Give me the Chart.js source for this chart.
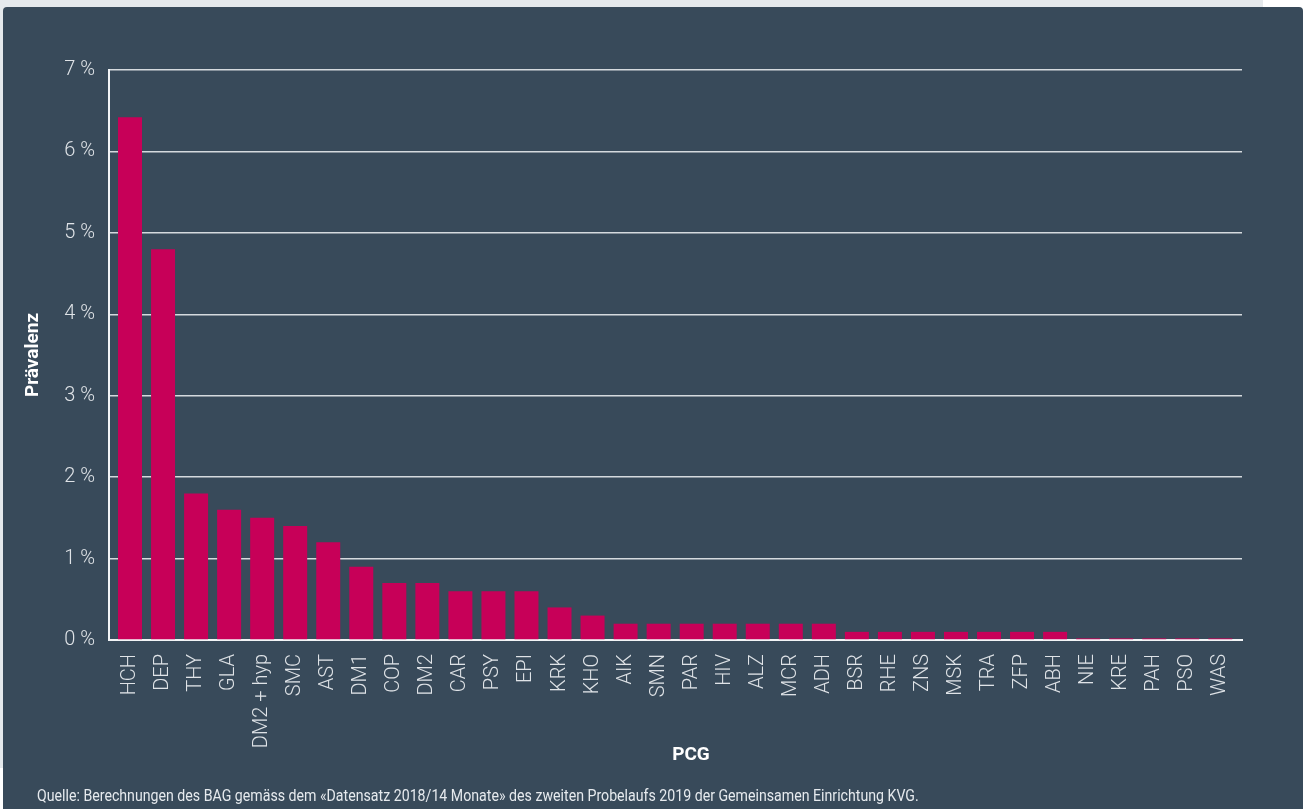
<!DOCTYPE html>
<html>
<head>
<meta charset="utf-8">
<script src="https://cdn.jsdelivr.net/npm/chart.js@4.4.1/dist/chart.umd.min.js"></script>
<style>
  html, body { margin: 0; padding: 0; background: #ffffff; width: 1306px; height: 809px; overflow: hidden; }
  #bgstrip { position: absolute; left: 0; top: 0; width: 1263px; height: 768px; background: #e5e9ec; }
  #panel { position: absolute; left: 3px; top: 7px; width: 1300px; height: 802px; background: #384a5a; border-radius: 4px 4px 0 0; overflow: hidden; }
  #wrap { position: absolute; left: 0; top: 0; width: 1300px; height: 802px; }
  #source { position: absolute; left: 34px; top: 779px; color: #e6eaee; font-family: 'Roboto', sans-serif; font-size: 16px; white-space: nowrap; transform: scaleX(0.885); transform-origin: 0 50%; }
</style>
</head>
<body>
<div id="bgstrip"></div>
<div id="panel">
  <div id="wrap"><canvas id="c"></canvas></div>
  <div id="source">Quelle: Berechnungen des BAG gemäss dem «Datensatz 2018/14 Monate» des zweiten Probelaufs 2019 der Gemeinsamen Einrichtung KVG.</div>
</div>
<script>
const categories = ['HCH','DEP','THY','GLA','DM2 + hyp','SMC','AST','DM1','COP','DM2','CAR','PSY','EPI','KRK','KHO','AIK','SMN','PAR','HIV','ALZ','MCR','ADH','BSR','RHE','ZNS','MSK','TRA','ZFP','ABH','NIE','KRE','PAH','PSO','WAS'];
const prevalence = [6.42,4.8,1.8,1.6,1.5,1.4,1.2,0.9,0.7,0.7,0.6,0.6,0.6,0.4,0.3,0.2,0.2,0.2,0.2,0.2,0.2,0.2,0.1,0.1,0.1,0.1,0.1,0.1,0.1,0.02,0.02,0.02,0.02,0.02];
const yTicks = [0,1,2,3,4,5,6,7];
const yTitle = 'Prävalenz';
const xTitle = 'PCG';

const FONT = "'Roboto', sans-serif";
const TXT = '#dfe3e7';

const titlePlugin = {
  id: 'axisTitles',
  afterDraw(chart) {
    const ctx = chart.ctx, a = chart.chartArea;
    ctx.save();
    ctx.fillStyle = '#ffffff';
    ctx.font = 'bold 19px ' + FONT;
    ctx.textAlign = 'center';
    ctx.textBaseline = 'middle';
    ctx.fillText(xTitle, 688, 748);
    ctx.translate(30, (a.top + a.bottom) / 2);
    ctx.rotate(-Math.PI / 2);
    ctx.fillText(yTitle, 0, 0);
    ctx.restore();
  }
};

new Chart(document.getElementById('c'), {
  type: 'bar',
  data: {
    datasets: [{
      data: prevalence.map((v, i) => ({ x: i, y: v })),
      backgroundColor: '#c70058',
      borderWidth: 0,
      categoryPercentage: 1.0,
      barPercentage: 0.726
    }]
  },
  options: {
    responsive: true,
    maintainAspectRatio: false,
    animation: false,
    layout: { padding: { top: 63, right: 61, left: 0, bottom: 0 } },
    plugins: { legend: { display: false }, tooltip: { enabled: false } },
    scales: {
      x: {
        type: 'linear',
        offset: false,
        min: -0.636, max: 33.657,
        afterFit: s => { s.height = 169; },
        afterBuildTicks: s => { s.ticks = categories.map((_, i) => ({ value: i })); },
        grid: { display: false, drawTicks: false, offset: false },
        border: { color: '#f2f4f6', width: 2 },
        ticks: {
          color: TXT, font: { family: FONT, size: 20, weight: '300' },
          minRotation: 90, maxRotation: 90, padding: 14, autoSkip: false,
          callback: v => categories[v]
        }
      },
      y: {
        min: 0, max: 7,
        afterFit: s => { s.width = 106; },
        afterBuildTicks: s => { s.ticks = yTicks.map(v => ({ value: v })); },
        grid: { color: '#d5dade', lineWidth: 1.5, drawTicks: false },
        border: { color: '#f2f4f6', width: 2 },
        ticks: {
          color: TXT, font: { family: FONT, size: 20, weight: '300' }, padding: 14,
          callback: v => v + ' %'
        }
      }
    }
  },
  plugins: [titlePlugin]
});
</script>
</body>
</html>
